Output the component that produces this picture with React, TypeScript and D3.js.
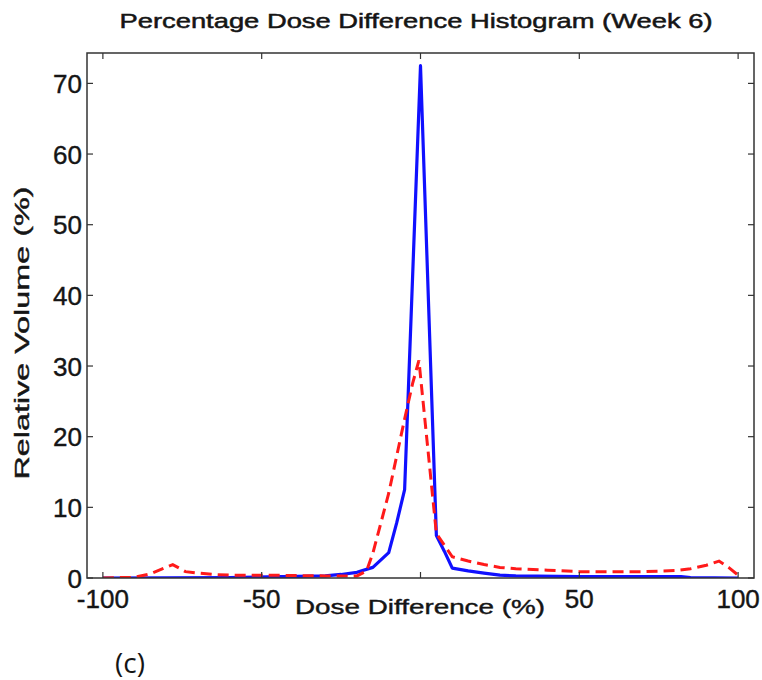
import React from "react";
import * as d3 from "d3";

const blueX = [-100, -60, -30, -25, -20, -15, -10, -7.5, -5, 0, 5, 7.5, 10, 15, 20, 25, 30, 50, 82, 85, 100];
const blueY = [0, 0.05, 0.3, 0.5, 0.8, 1.5, 3.6, 7.8, 12.5, 72.5, 6, 3.8, 1.4, 1.0, 0.7, 0.4, 0.3, 0.2, 0.2, 0.05, 0];

const redX = [-100, -90, -85, -78, -74, -70, -65, -60, -50, -40, -30, -25, -20, -17, -15, -10, -5, -2.5, -0.5, 5, 10, 15, 20, 25, 30, 40, 50, 60, 70, 80, 85, 90, 94, 97, 100];
const redY = [0, 0.1, 0.6, 1.9, 0.9, 0.7, 0.5, 0.4, 0.4, 0.35, 0.3, 0.3, 0.3, 1.0, 3.5, 12, 22.5, 27.5, 30.8, 6.3, 3.0, 2.4, 1.9, 1.5, 1.3, 1.1, 0.9, 0.9, 0.9, 1.05, 1.3, 1.8, 2.4, 1.5, 0.4];

const xTicks = [-100, -50, 0, 50, 100];
const yTicks = [0, 10, 20, 30, 40, 50, 60, 70];

const title = "Percentage Dose Difference Histogram (Week 6)";
const xLabel = "Dose Difference (%)";
const yLabel = "Relative Volume (%)";
const panelLabel = "(c)";

export default function App() {
  const W = 762, H = 680;
  const L = 87, R = 754, T = 53, B = 578;
  const x = d3.scaleLinear().domain([-105, 105]).range([L, R]);
  const y = d3.scaleLinear().domain([0, 74.3]).range([B, T]);
  const line = d3.line<[number, number]>().x(d => x(d[0])).y(d => y(d[1]));
  const blue = line(blueX.map((v, i) => [v, blueY[i]]) as [number, number][]) || "";
  const red = line(redX.map((v, i) => [v, redY[i]]) as [number, number][]) || "";
  const font = "'Liberation Sans', Arial, sans-serif";
  const tk = 6;
  const ink = "#151515";
  return (
    <svg width={W} height={H} style={{ position: "absolute", left: 0, top: 0, background: "#fff" }}>
      <rect x={0} y={0} width={W} height={H} fill="#fff" />
      <text x={416} y={28} textAnchor="middle" fontFamily={font} fontSize={21} fill={ink} stroke={ink} strokeWidth={0.5}
        textLength={593} lengthAdjust="spacingAndGlyphs">{title}</text>
      <defs>
        <clipPath id="plotclip"><rect x={L} y={T} width={R - L} height={B - T} /></clipPath>
      </defs>
      <g clipPath="url(#plotclip)">
        <path d={blue} fill="none" stroke="#1010ff" strokeWidth={3.2} strokeLinejoin="round" />
        <path d={red} fill="none" stroke="#ff1a1a" strokeWidth={3} strokeDasharray="11,6" />
      </g>
      <rect x={L} y={T} width={R - L} height={B - T} fill="none" stroke="#333" strokeWidth={1.5} />
      {xTicks.map(t => (
        <g key={"x" + t}>
          <line x1={x(t)} x2={x(t)} y1={B} y2={B - tk} stroke="#333" strokeWidth={1.2} />
          <line x1={x(t)} x2={x(t)} y1={T} y2={T + tk} stroke="#333" strokeWidth={1.2} />
          <text x={x(t)} y={B + 30} textAnchor="middle" fontFamily={font} fontSize={26} fill={ink} stroke={ink} strokeWidth={0.4}>{t}</text>
        </g>
      ))}
      {yTicks.map(t => (
        <g key={"y" + t}>
          <line x1={L} x2={L + tk} y1={y(t)} y2={y(t)} stroke="#333" strokeWidth={1.2} />
          <line x1={R} x2={R - tk} y1={y(t)} y2={y(t)} stroke="#333" strokeWidth={1.2} />
          <text x={L - 5} y={y(t) + 9.5} textAnchor="end" fontFamily={font} fontSize={26} fill={ink} stroke={ink} strokeWidth={0.4}>{t}</text>
        </g>
      ))}
      <rect x={290} y={589} width={258} height={32} fill="#fff" />
      <text x={420} y={614} textAnchor="middle" fontFamily={font} fontSize={21} fill={ink} stroke={ink} strokeWidth={0.4}
        textLength={250} lengthAdjust="spacingAndGlyphs">{xLabel}</text>
      <text transform={`translate(29,333) rotate(-90)`} textAnchor="middle" fontFamily={font} fontSize={21} fill={ink} stroke={ink} strokeWidth={0.4}
        textLength={293} lengthAdjust="spacingAndGlyphs">{yLabel}</text>
      <text x={130} y={673} textAnchor="middle" fontFamily="'Open Sans', sans-serif" fontSize={28} fill={ink}>{panelLabel}</text>
    </svg>
  );
}
